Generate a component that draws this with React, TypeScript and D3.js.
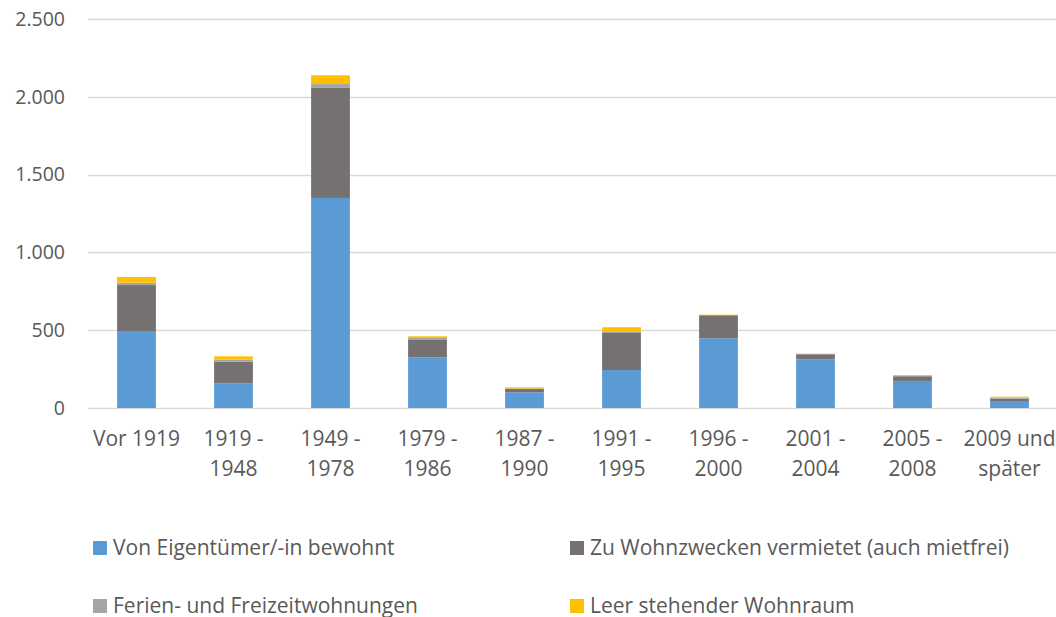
import { useEffect, useRef } from 'react';
import * as d3 from 'd3';

const categories = [
  'Vor 1919', '1919 - 1948', '1949 - 1978', '1979 - 1986', '1987 - 1990',
  '1991 - 1995', '1996 - 2000', '2001 - 2004', '2005 - 2008', '2009 und später',
];
// x label lines (the chart wraps labels onto two lines)
const labelLines = [
  ['Vor 1919'], ['1919 -', '1948'], ['1949 -', '1978'], ['1979 -', '1986'], ['1987 -', '1990'],
  ['1991 -', '1995'], ['1996 -', '2000'], ['2001 -', '2004'], ['2005 -', '2008'], ['2009 und', 'später'],
];

const seriesNames = [
  'Von Eigentümer/-in bewohnt',
  'Zu Wohnzwecken vermietet (auch mietfrei)',
  'Ferien- und Freizeitwohnungen',
  'Leer stehender Wohnraum',
];
const eigentuemer = [495, 159, 1350, 326, 101, 244, 448, 313, 174, 45];
const vermietet = [295, 139, 707, 115, 21, 242, 148, 32, 30, 15];
const ferien = [15, 12, 25, 9, 3, 7, 2, 4, 6, 6];
const leer = [37, 22, 56, 11, 8, 26, 2, 0, 0, 7];
const colors = ['#5B9BD5', '#767171', '#A5A5A5', '#FFC000'];
const yTicks = [0, 500, 1000, 1500, 2000, 2500];

function App() {
  const svgRef = useRef<SVGSVGElement>(null);

  useEffect(() => {
    if (!svgRef.current) return;
    const svg = d3.select(svgRef.current);
    svg.selectAll('*').remove();

    const width = 1056;
    const height = 617;
    const margin = { top: 19, right: 0, bottom: 209, left: 88 };
    const font = '"Open Sans", Calibri, sans-serif';
    const textColor = '#595959';

    const rows = categories.map((c, i) => ({
      cat: c,
      s0: eigentuemer[i],
      s1: vermietet[i],
      s2: ferien[i],
      s3: leer[i],
    }));
    const stack = d3.stack<any>().keys(['s0', 's1', 's2', 's3']);
    const layers = stack(rows);

    const x = d3.scaleBand()
      .domain(categories)
      .range([margin.left, 1058])
      .paddingInner(0.6)
      .paddingOuter(0.3);
    const y = d3.scaleLinear()
      .domain([0, 2500])
      .range([height - margin.bottom, margin.top]);

    // Gridlines
    svg.append('g')
      .selectAll('line')
      .data(yTicks)
      .join('line')
      .attr('x1', margin.left)
      .attr('x2', width)
      .attr('y1', d => Math.round(y(d)) + 0.5)
      .attr('y2', d => Math.round(y(d)) + 0.5)
      .attr('stroke', '#D9D9D9')
      .attr('stroke-width', 1.3);

    // Y labels
    const fmt = (d: number) => d3.format(',')(d).replace(/,/g, '.');
    svg.append('g')
      .selectAll('text')
      .data(yTicks)
      .join('text')
      .attr('x', 65)
      .attr('y', d => y(d))
      .attr('dy', '0.35em')
      .attr('text-anchor', 'end')
      .attr('font-family', font)
      .attr('font-size', 19.5)
      .attr('fill', textColor)
      .text(d => fmt(d));

    // Bars
    svg.append('g')
      .selectAll('g')
      .data(layers)
      .join('g')
      .attr('fill', (_, i) => colors[i])
      .selectAll('rect')
      .data(d => d)
      .join('rect')
      .attr('x', d => x(d.data.cat)!)
      .attr('width', x.bandwidth())
      .attr('y', d => y(d[1]))
      .attr('height', d => Math.max(0, y(d[0]) - y(d[1])));

    // X labels
    const xl = svg.append('g');
    categories.forEach((c, i) => {
      const t = xl.append('text')
        .attr('x', x(c)! + x.bandwidth() / 2)
        .attr('y', 446)
        .attr('text-anchor', 'middle')
        .attr('font-family', font)
        .attr('font-size', 21)
        .attr('fill', textColor);
      labelLines[i].forEach((line, j) => {
        t.append('tspan')
          .attr('x', x(c)! + x.bandwidth() / 2)
          .attr('dy', j === 0 ? 0 : 30)
          .text(line);
      });
    });

    // Legend
    const legendPos = [
      { x: 93, y: 548 },
      { x: 570, y: 548 },
      { x: 93, y: 606 },
      { x: 570, y: 606 },
    ];
    const lg = svg.append('g');
    seriesNames.forEach((name, i) => {
      const p = legendPos[i];
      lg.append('rect')
        .attr('x', p.x)
        .attr('y', p.y - 7)
        .attr('width', 14)
        .attr('height', 14)
        .attr('fill', colors[i]);
      lg.append('text')
        .attr('x', p.x + 20)
        .attr('y', p.y)
        .attr('dy', '0.35em')
        .attr('font-family', font)
        .attr('font-size', 21)
        .attr('fill', textColor)
        .text(name);
    });
  }, []);

  return (
    <svg
      ref={svgRef}
      width={1056}
      height={617}
      style={{ position: 'absolute', left: 0, top: 0, background: '#fff' }}
    />
  );
}

export default App;
